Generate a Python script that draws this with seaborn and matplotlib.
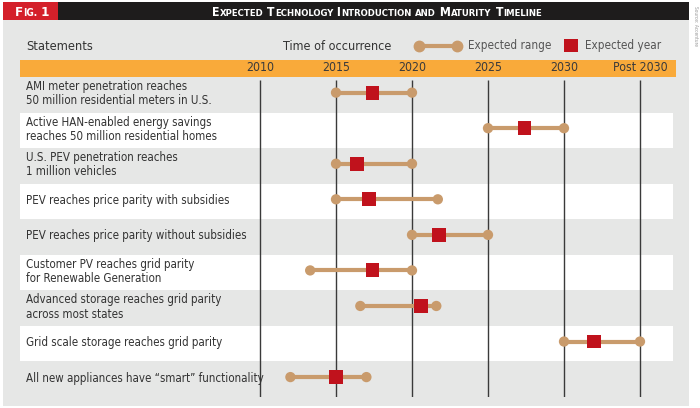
import matplotlib
matplotlib.use("Agg")
import matplotlib.pyplot as plt
import matplotlib.transforms as mtransforms
from matplotlib.patches import Rectangle
from matplotlib.lines import Line2D
import pandas as pd
import seaborn as sns

statements = [
    "AMI meter penetration reaches\n50 million residential meters in U.S.",
    "Active HAN-enabled energy savings\nreaches 50 million residential homes",
    "U.S. PEV penetration reaches\n1 million vehicles",
    "PEV reaches price parity with subsidies",
    "PEV reaches price parity without subsidies",
    "Customer PV reaches grid parity\nfor Renewable Generation",
    "Advanced storage reaches grid parity\nacross most states",
    "Grid scale storage reaches grid parity",
    "All new appliances have \u201csmart\u201d functionality",
]
range_start = [2015, 2025, 2015, 2015, 2020, 2013.3, 2016.6, 2030, 2012]
range_end = [2020, 2030, 2020, 2021.7, 2025, 2020, 2021.6, 2035, 2017]
expected_year = [2017.4, 2027.4, 2016.4, 2017.2, 2021.8, 2017.4, 2020.6, 2032, 2015]

tick_years = [2010, 2015, 2020, 2025, 2030, 2035]
tick_labels = ["2010", "2015", "2020", "2025", "2030", "Post 2030"]

TAN = "#c99b6c"
RED = "#c0121c"
ORANGE = "#f9aa3a"
PANEL = "#e6e7e6"
TXT = "#333333"

sns.set_theme(style="white")
plt.rcParams["font.family"] = ["DejaVu Sans"]
plt.rcParams["font.stretch"] = "condensed"

W, H = 700, 408
fig = plt.figure(figsize=(7, 4.08), dpi=100)
fig.patch.set_facecolor("white")


def fx(x):
    return x / W


def fy(y):
    return 1 - y / H


def box(x0, y0, x1, y1, color, z=0):
    fig.patches.append(Rectangle((fx(x0), fy(y1)), fx(x1) - fx(x0), fy(y0) - fy(y1),
                                 transform=fig.transFigure, color=color, zorder=z, lw=0))


# panel, header bar, fig label box
box(3, 20, 689, 406, PANEL, z=-3)
box(3, 2, 689, 20, "#1e1c1c", z=-2)
box(3, 2, 58, 20, "#d4202a", z=-1)
box(20, 60, 676, 77, ORANGE, z=-1)


def small_caps(x, y, text, big, small, **kw):
    # fake small caps: capitals at full size, others uppercased and smaller
    renderer = fig.canvas.get_renderer()
    pieces = []
    for ch in text:
        size = big if (ch.isupper() or ch.isdigit() or ch == " ") else small
        if pieces and pieces[-1][1] == size:
            pieces[-1][0] += ch
        else:
            pieces.append([ch, size])
    cur = x
    made = []
    for s, size in pieces:
        t = fig.text(cur, y, s.upper(), fontsize=size, transform=fig.transFigure, **kw)
        bb = t.get_window_extent(renderer)
        cur += bb.width / W
        made.append(t)
    return cur, made


# measure title width then draw centered
title = "Expected Technology Introduction and Maturity Timeline"
tw, probe = small_caps(0, -1, title, 8.8, 6.8, color="white", fontweight="bold")
for t in probe:
    t.remove()
small_caps(fx(377) - tw / 2, fy(15.5), title, 8.8, 6.8, color="white", fontweight="bold")
small_caps(fx(15), fy(16), "Fig. 1", 9.5, 7.2, color="white", fontweight="bold")

fig.text(fx(695), fy(6), "Source: Accenture", rotation=270, fontsize=3.5,
         color="#999999", ha="center", va="top")

# header row
fig.text(fx(26), fy(46), "Statements", fontsize=9.2, color=TXT, va="center")
fig.text(fx(283), fy(46), "Time of occurrence", fontsize=9, color=TXT, va="center")
fig.lines.append(Line2D([fx(419), fx(457)], [fy(46), fy(46)], transform=fig.transFigure,
                        color=TAN, lw=3, marker="o", markersize=7.5, markevery=[0, 1]))
fig.text(fx(468), fy(46), "Expected range", fontsize=8.4, color="#555555", va="center")
box(564, 39, 578, 52, RED, z=3)
fig.text(fx(585), fy(46), "Expected year", fontsize=8.4, color="#555555", va="center")

# main axes: 2010 at px 260, 2035 at px 640
ppy = (640 - 260) / 25
x_left = 2010 - (260 - 20) / ppy
x_right = 2010 + (673 - 260) / ppy
ax = fig.add_axes([fx(20), fy(397), fx(673) - fx(20), fy(77) - fy(397)])
ax.set_zorder(5)
ax.set_facecolor("none")
n = len(statements)
for spine in ax.spines.values():
    spine.set_visible(False)

for i in range(n):
    if i % 2 == 1:
        ax.axhspan(i - 0.5, i + 0.5, color="white", lw=0, zorder=0)

ax.vlines(tick_years, -0.42, n - 0.5, color="#3a3a3a", lw=1, zorder=1)

df = pd.DataFrame({"statement": statements, "start": range_start,
                   "end": range_end, "expected": expected_year})
df["row"] = range(n)
df["yy"] = df["row"] - 0.06

ax.hlines(df["yy"], df["start"], df["end"], color=TAN, lw=3, zorder=2)
ends = pd.concat([df[["start", "yy"]].rename(columns={"start": "x"}),
                  df[["end", "yy"]].rename(columns={"end": "x"})])
sns.scatterplot(data=ends, x="x", y="yy", ax=ax, color=TAN, s=55, edgecolor="none",
                zorder=3, legend=False)
sns.scatterplot(data=df, x="expected", y="yy", ax=ax, color=RED, marker="s", s=100,
                edgecolor="none", zorder=4, legend=False)
ax.set_xlabel("")
ax.set_ylabel("")
ax.set_xlim(x_left, x_right)
ax.set_ylim(n - 0.5, -0.5)
ax.set_yticks([])
ax.xaxis.tick_top()
ax.set_xticks(tick_years)
ax.set_xticklabels(tick_labels, fontsize=8.8, color="#3a3a3a")
ax.tick_params(axis="x", length=0, pad=2)

tr = mtransforms.blended_transform_factory(ax.transAxes, ax.transData)
for i, s in enumerate(statements):
    ax.text(6 / 653, i - 0.03, s, transform=tr, fontsize=8.3, color=TXT,
            va="center", ha="left", linespacing=1.12)

fig.savefig("out.png", dpi=100)
